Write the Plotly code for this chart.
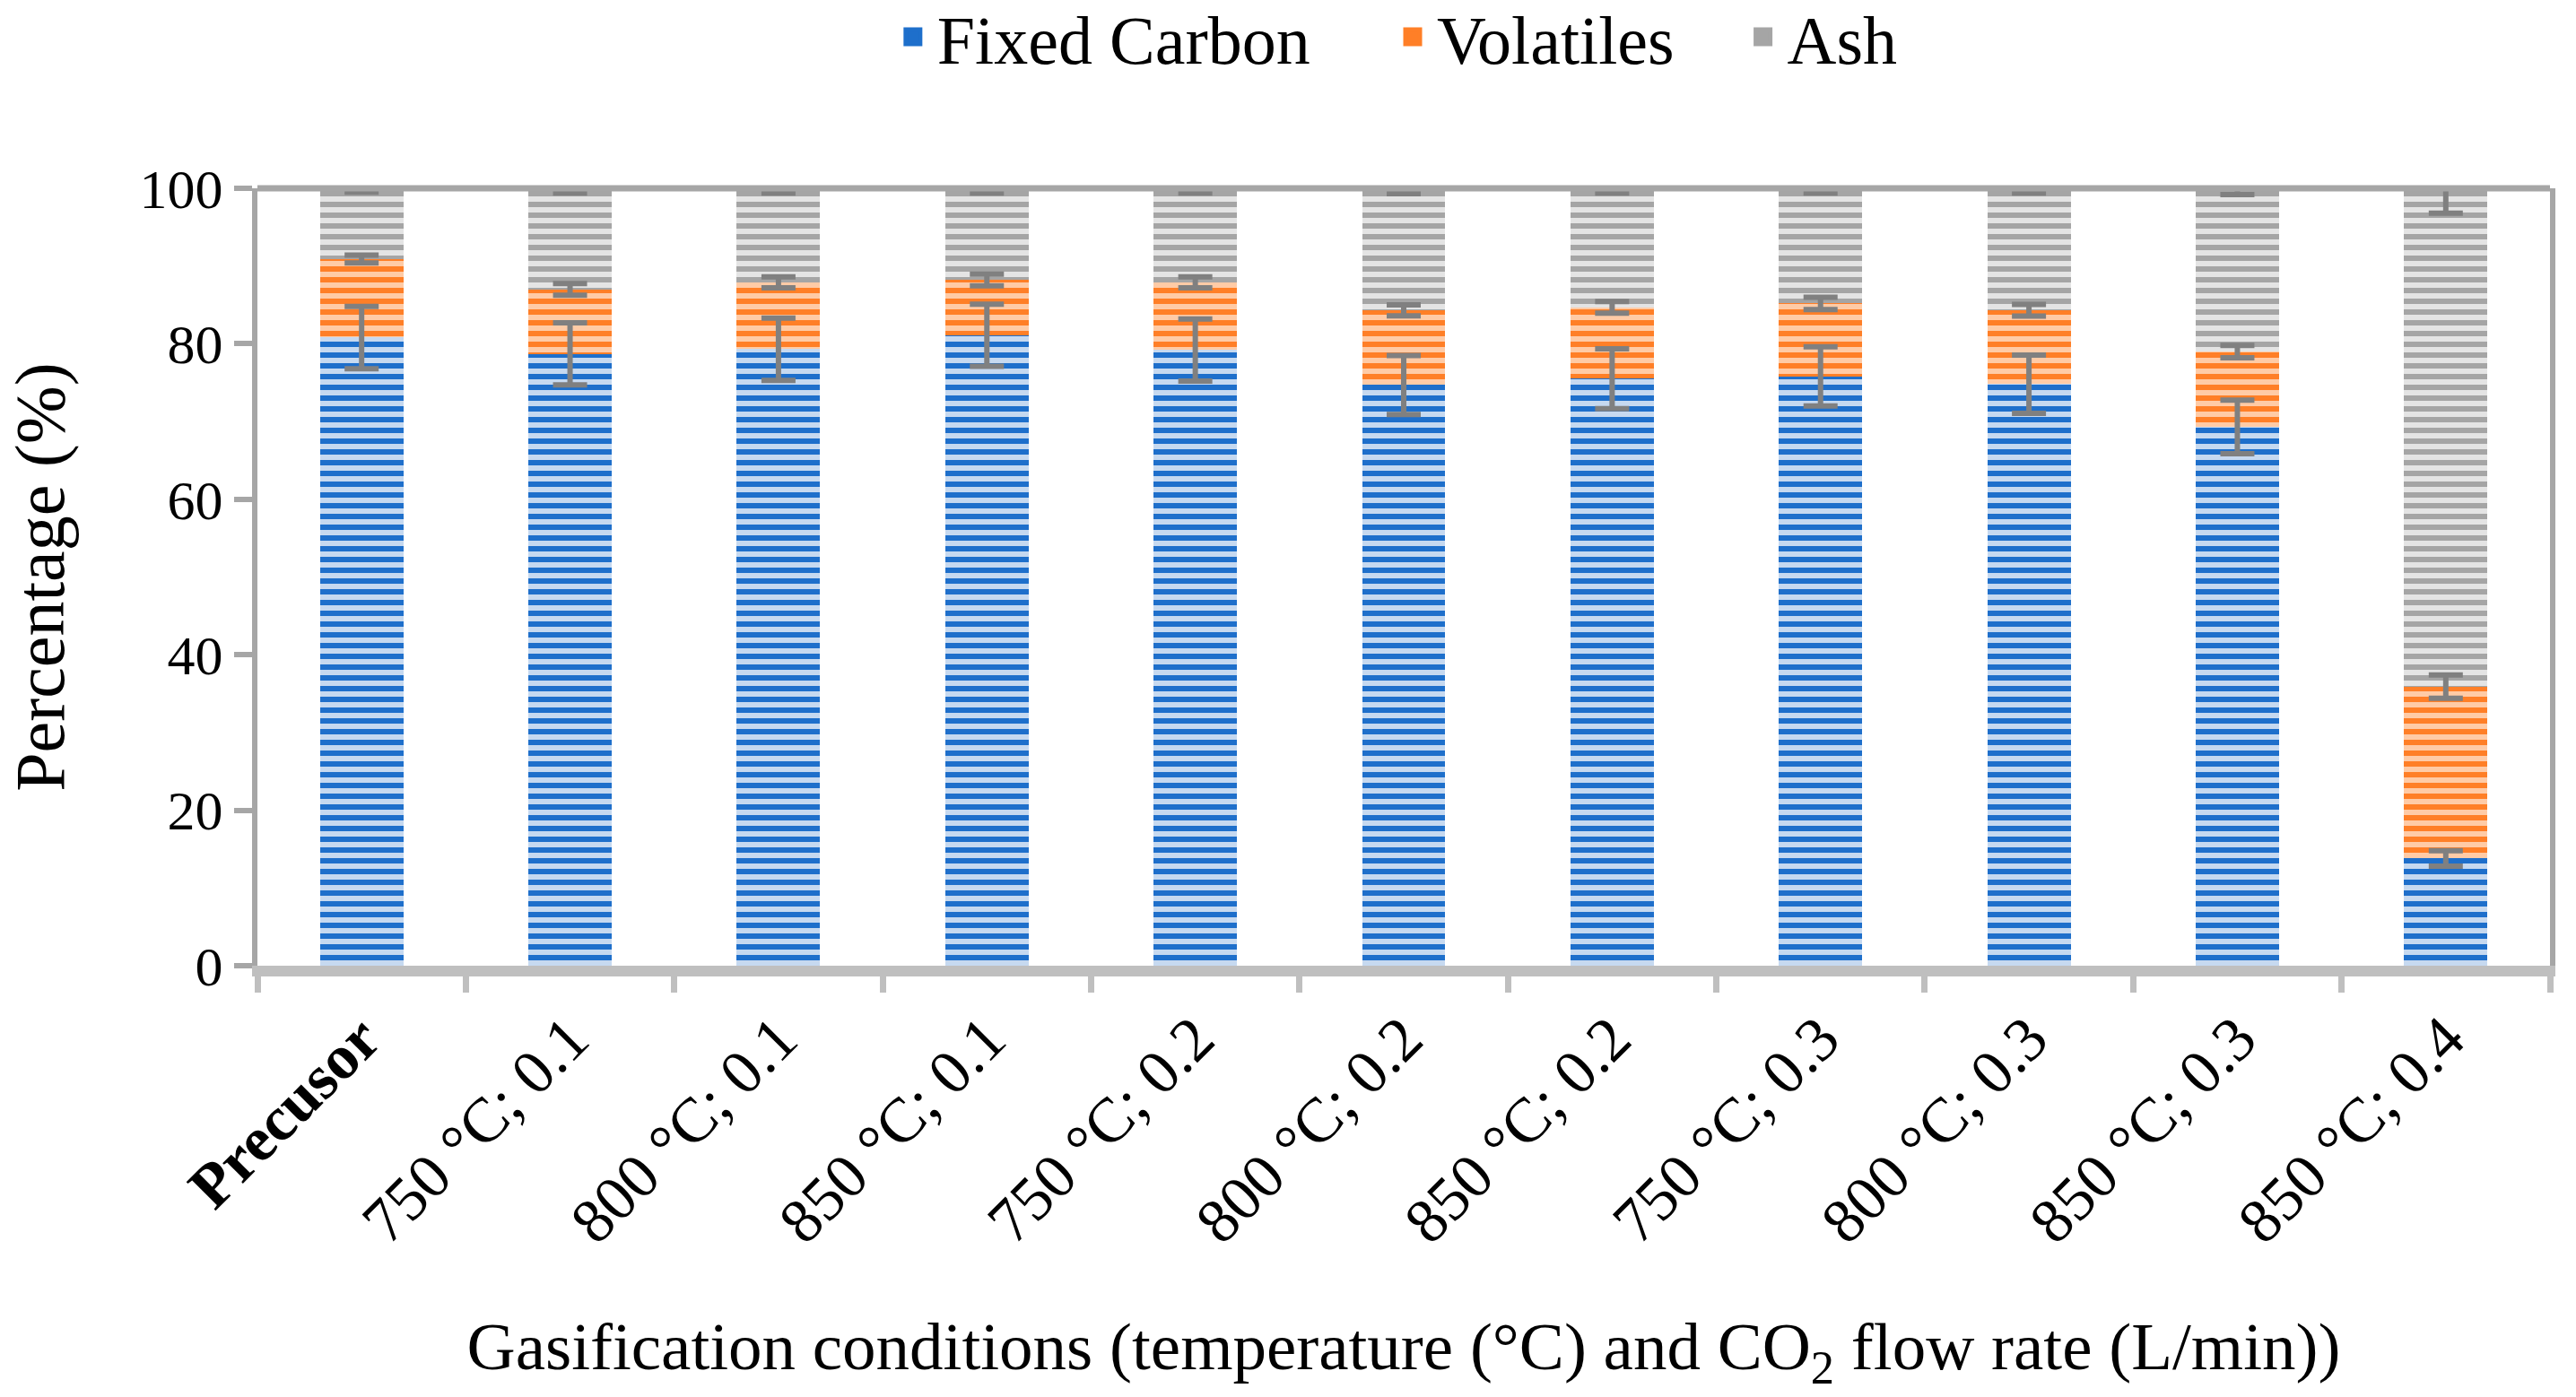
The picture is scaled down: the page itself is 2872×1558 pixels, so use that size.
import plotly.graph_objects as go

categories = ["<b>Precusor</b>", "750 °C; 0.1", "800 °C; 0.1", "850 °C; 0.1", "750 °C; 0.2",
              "800 °C; 0.2", "850 °C; 0.2", "750 °C; 0.3", "800 °C; 0.3", "850 °C; 0.3", "850 °C; 0.4"]
fixed_carbon = [80.8, 78.7, 79.3, 81.1, 79.2, 74.7, 75.5, 75.8, 74.8, 69.3, 13.8]
volatiles = [10.1, 8.3, 8.6, 7.1, 8.7, 9.6, 9.2, 9.4, 9.5, 9.7, 22.1]
ash = [9.1, 13.0, 12.1, 11.8, 12.1, 15.7, 15.3, 14.8, 15.7, 21.0, 64.1]
fixed_carbon_err = [4.0, 4.0, 4.0, 4.0, 4.0, 3.8, 3.85, 3.8, 3.75, 3.45, 1.0]
volatiles_err = [0.5, 0.75, 0.7, 0.75, 0.7, 0.7, 0.75, 0.8, 0.75, 0.8, 1.5]
ash_err = [0.5, 0.6, 0.6, 0.6, 0.6, 0.7, 0.6, 0.6, 0.6, 0.8, 3.2]

FONT = "Liberation Serif, Times New Roman, serif"

series = [
    ("Fixed Carbon", fixed_carbon, fixed_carbon_err, "#1E6FCB", "#C6D9F0"),
    ("Volatiles", volatiles, volatiles_err, "#FF7F27", "#FFCBA6"),
    ("Ash", ash, ash_err, "#A5A5A5", "#E4E4E4"),
]
legend_ids = ["legend", "legend2", "legend3"]
legend_x = [0.345, 0.539, 0.675]

fig = go.Figure()

# stacked bars
for name, vals, err, dark, light in series:
    fig.add_trace(go.Bar(
        name=name, x=categories, y=vals, showlegend=False,
        marker=dict(color=light, line=dict(width=0),
                    pattern=dict(shape="-", fgcolor=dark, bgcolor=light,
                                 size=12, solidity=0.5, fillmode="replace")),
    ))

# error bars at the top of each stacked segment, drawn above all bars
cum = [0.0] * len(categories)
for name, vals, err, dark, light in series:
    cum = [c + v for c, v in zip(cum, vals)]
    fig.add_trace(go.Scatter(
        x=categories, y=cum, mode="markers", showlegend=False, hoverinfo="skip",
        marker=dict(size=1, color="rgba(0,0,0,0)"),
        error_y=dict(type="data", array=err, visible=True, color="#808080",
                     thickness=6, width=19),
    ))

# legend entries (square swatches), one legend each so they can be spaced as in the original
for (name, vals, err, dark, light), lid in zip(series, legend_ids):
    fig.add_trace(go.Scatter(
        x=[None], y=[None], mode="markers", name=name, legend=lid,
        marker=dict(symbol="square", size=34, color=dark,
                    line=dict(color=dark, width=5)),
    ))

legend_common = dict(orientation="h", xref="container", xanchor="left",
                     y=1 - 41 / 1558, yref="container", yanchor="middle",
                     font=dict(size=76), itemsizing="trace", itemwidth=44,
                     bgcolor="rgba(0,0,0,0)")

fig.update_layout(
    barmode="stack", bargap=0.6,
    width=2872, height=1558,
    margin=dict(l=287, r=29, t=210, b=481),
    paper_bgcolor="white", plot_bgcolor="white",
    font=dict(family=FONT, size=64, color="black"),
    legend=dict(x=legend_x[0], **legend_common),
    legend2=dict(x=legend_x[1], **legend_common),
    legend3=dict(x=legend_x[2], **legend_common),
    xaxis=dict(
        range=[-0.5, len(categories) - 0.5],
        showline=True, linecolor="#BFBFBF", linewidth=12,
        ticks="outside", tickson="boundaries", ticklen=18, tickwidth=7, tickcolor="#BFBFBF",
        tickangle=-45, tickfont=dict(size=70),
        title=dict(text="Gasification conditions (temperature (°C) and CO<sub>2</sub> flow rate (L/min))",
                   font=dict(size=75), standoff=80),
        showgrid=False,
    ),
    yaxis=dict(
        range=[0, 100], dtick=20, showline=True, linecolor="#A6A6A6", linewidth=6, mirror=True,
        ticks="outside", ticklen=20, tickwidth=6, tickcolor="#A6A6A6",
        tickfont=dict(size=62), showgrid=False, zeroline=False,
        title=dict(text="Percentage (%)", font=dict(size=78), standoff=60),
    ),
    shapes=[dict(type="line", xref="x domain", yref="y domain", x0=0, x1=1, y0=1, y1=1,
                 line=dict(color="#A6A6A6", width=7))],
)

fig.write_html("out.html")
